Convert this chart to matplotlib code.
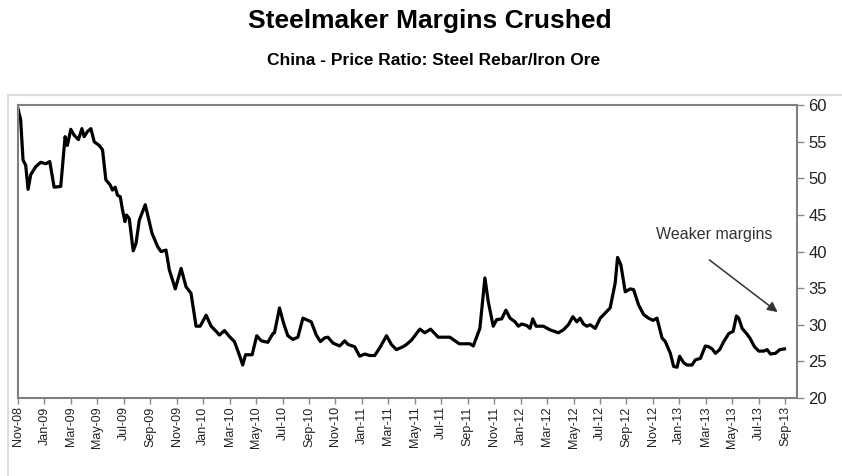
import matplotlib
matplotlib.use("Agg")
import matplotlib.pyplot as plt
from matplotlib.patches import Rectangle

plt.rcParams['font.family'] = ['Liberation Sans', 'DejaVu Sans']

# months since Nov-08 and the rebar / iron ore ratio
months = [0.0, 0.20, 0.38, 0.58, 0.76, 0.96, 1.34, 1.72, 2.10, 2.40, 2.73, 3.23,
          3.56, 3.73, 3.99, 4.24, 4.57, 4.83, 5.00, 5.25, 5.51, 5.76, 6.14, 6.39,
          6.64, 6.97, 7.14, 7.35, 7.52, 7.73, 7.90, 8.08, 8.20, 8.41, 8.71, 8.92,
          9.17, 9.62, 10.13, 10.55, 10.81, 11.19, 11.44, 11.89, 12.33, 12.70, 13.08,
          13.46, 13.77, 14.22, 14.60, 14.98, 15.23, 15.61, 15.98, 16.36, 16.69,
          16.99, 17.20, 17.70, 18.05, 18.39, 18.89, 19.27, 19.39, 19.77, 20.08,
          20.40, 20.78, 21.16, 21.54, 21.92, 22.17, 22.55, 22.86, 23.18, 23.43,
          23.81, 24.32, 24.70, 24.95, 25.45, 25.83, 26.21, 26.59, 26.97, 27.40,
          27.86, 28.23, 28.61, 29.11, 29.37, 29.75, 30.38, 30.76, 31.19, 31.77,
          32.65, 33.36, 34.17, 34.42, 34.92, 35.30, 35.55, 35.93, 36.19, 36.57,
          36.89, 37.20, 37.58, 37.83, 38.08, 38.46, 38.71, 38.92, 39.17, 39.72,
          40.23, 40.86, 41.23, 41.61, 41.95, 42.25, 42.50, 42.75, 43.01, 43.26,
          43.64, 44.02, 44.39, 44.77, 45.15, 45.33, 45.58, 45.91, 46.29, 46.54,
          46.92, 47.30, 47.67, 48.01, 48.31, 48.69, 48.94, 49.32, 49.57, 49.83,
          50.02, 50.33, 50.58, 50.96, 51.21, 51.59, 51.97, 52.22, 52.48, 52.73,
          53.05, 53.36, 53.74, 54.07, 54.32, 54.49, 54.75, 55.08, 55.33, 55.68,
          56.01, 56.39, 56.64, 56.89, 57.27, 57.60, 57.95]
ratio = [59.5, 58.0, 52.5, 51.8, 48.5, 50.5, 51.6, 52.2, 52.0, 52.3, 48.8, 48.9,
         55.7, 54.5, 56.7, 55.9, 55.3, 56.8, 55.7, 56.4, 56.8, 55.0, 54.5, 53.9,
         49.8, 49.1, 48.4, 48.8, 47.7, 47.5, 45.7, 44.1, 45.0, 44.5, 40.1, 41.1,
         44.3, 46.4, 42.5, 40.7, 40.0, 40.2, 37.5, 34.9, 37.7, 35.2, 34.3,
         29.8, 29.8, 31.3, 29.8, 29.1, 28.6, 29.2, 28.4, 27.7, 26.1,
         24.5, 25.9, 25.9, 28.5, 27.8, 27.6, 28.8, 28.9, 32.3, 30.2,
         28.5, 28.0, 28.3, 30.9, 30.6, 30.4, 28.6, 27.7, 28.2, 28.3,
         27.5, 27.1, 27.8, 27.3, 27.0, 25.7, 26.0, 25.8, 25.8, 27.0,
         28.5, 27.3, 26.6, 27.0, 27.3, 27.9, 29.4, 28.9, 29.4, 28.3,
         28.3, 27.4, 27.4, 27.1, 29.5, 36.4, 33.2, 29.8, 30.7, 30.8,
         32.0, 30.9, 30.4, 29.8, 30.1, 29.9, 29.5, 30.8, 29.8, 29.8,
         29.3, 28.9, 29.3, 30.0, 31.1, 30.4, 30.9, 30.1, 29.8, 30.0,
         29.5, 30.9, 31.6, 32.3, 35.7, 39.2, 38.2, 34.5, 34.9, 34.8,
         32.7, 31.4, 30.9, 30.6, 30.9, 28.2, 27.7, 26.1, 24.3, 24.2,
         25.7, 24.8, 24.5, 24.5, 25.2, 25.4, 27.1, 27.0, 26.7, 26.1,
         26.6, 27.7, 28.8, 29.1, 31.2, 30.9, 29.5, 28.8, 28.2, 27.0,
         26.4, 26.4, 26.6, 26.0, 26.1, 26.6, 26.7]

tick_labels = ['Nov-08', 'Jan-09', 'Mar-09', 'May-09', 'Jul-09', 'Sep-09',
               'Nov-09', 'Jan-10', 'Mar-10', 'May-10', 'Jul-10', 'Sep-10',
               'Nov-10', 'Jan-11', 'Mar-11', 'May-11', 'Jul-11', 'Sep-11',
               'Nov-11', 'Jan-12', 'Mar-12', 'May-12', 'Jul-12', 'Sep-12',
               'Nov-12', 'Jan-13', 'Mar-13', 'May-13', 'Jul-13', 'Sep-13']
tick_pos = list(range(0, 2 * len(tick_labels), 2))

fig = plt.figure(figsize=(8.42, 4.76), dpi=100)
ax = fig.add_axes([0.0214, 0.164, 0.9252, 0.615])

# light frame round the plot area
fig.patches.append(Rectangle((0.009, -0.05), 1.1, 0.85, transform=fig.transFigure,
                             fill=False, edgecolor='#dcdcdc', linewidth=1.5))

ax.plot(months, ratio, color='black', linewidth=2.3, solid_joinstyle='round')

ax.set_xlim(0, 58.9)
ax.set_ylim(20, 60)
ax.set_xticks(tick_pos)
ax.set_xticklabels(tick_labels, rotation=90, fontsize=9, color='#222222')
ax.set_yticks(range(20, 61, 5))
ax.yaxis.tick_right()
ax.tick_params(axis='y', labelsize=12, length=5, width=1, color='#888888',
               labelcolor='#222222', pad=3)
ax.tick_params(axis='x', length=4, width=1, color='#888888', pad=2)
for sp in ax.spines.values():
    sp.set_color('#808080')
    sp.set_linewidth(1.5)

ax.annotate('', xy=(57.6, 31.5), xytext=(52.1, 39.1),
            arrowprops=dict(arrowstyle='-|>', color='#333333', lw=1.1,
                            mutation_scale=15))
ax.text(52.6, 42.3, 'Weaker margins', fontsize=11.5, color='#333333',
        ha='center', va='center')

fig.text(0.511, 0.955, 'Steelmaker Margins Crushed', ha='center', va='center',
         fontsize=19, fontweight='bold')
fig.text(0.515, 0.872, 'China - Price Ratio: Steel Rebar/Iron Ore', ha='center',
         va='center', fontsize=12.5, fontweight='bold')

fig.savefig('out.png', dpi=100)
